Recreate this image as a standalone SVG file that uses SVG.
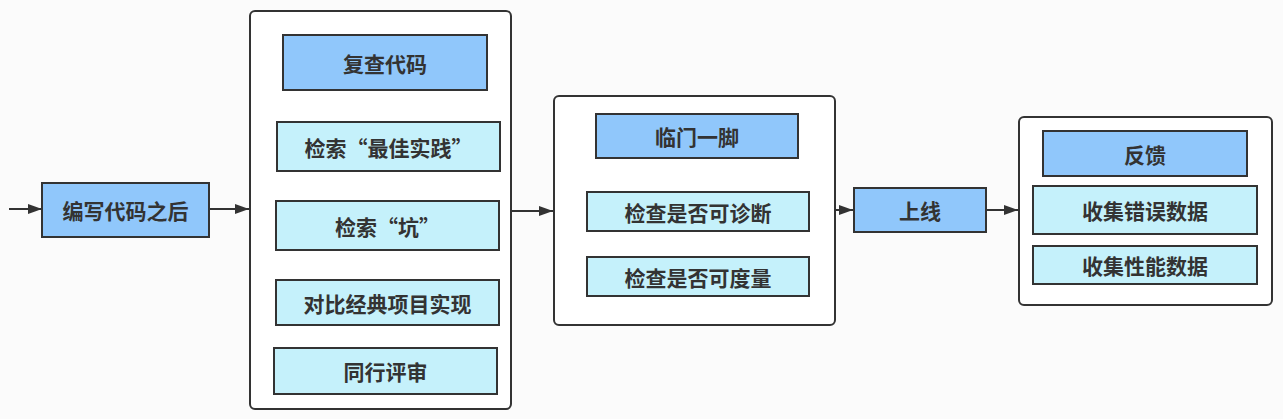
<svg xmlns="http://www.w3.org/2000/svg" width="1283" height="419" viewBox="0 0 1283 419">
<style>
.bg{fill:#fbfbfb}
.cont{fill:#ffffff;stroke:#333333;stroke-width:2}
.dk{fill:#90c7fb;stroke:#333333;stroke-width:2}
.lt{fill:#c5f1fb;stroke:#333333;stroke-width:2}
text{font-family:"Noto Sans CJK SC","Liberation Sans",sans-serif;font-weight:bold;font-size:21px;fill:#333333;text-anchor:middle;dominant-baseline:central}
.ln{stroke:#333333;stroke-width:2;fill:none;marker-end:url(#ah)}
</style>
<defs>
<marker id="ah" viewBox="0 0 14 10" refX="14" refY="5" markerWidth="14" markerHeight="10" markerUnits="userSpaceOnUse" orient="auto">
<path d="M0,0 L14,5 L0,10 Z" fill="#333333"/>
</marker>
</defs>
<rect class="bg" x="0" y="0" width="1283" height="419"/>
<g id="connectors">
<line class="ln" x1="9" y1="209" x2="42" y2="209"/>
<line class="ln" x1="209" y1="209" x2="249" y2="209"/>
<line class="ln" x1="511" y1="211" x2="553" y2="211"/>
<line class="ln" x1="835" y1="210" x2="853" y2="210"/>
<line class="ln" x1="986" y1="210" x2="1018" y2="210"/>
</g>
<g id="n-after">
<rect class="dk" x="42" y="183" width="167" height="54"/>
<text x="125.5" y="210">编写代码之后</text>
</g>
<g id="c-review">
<rect class="cont" x="250" y="11" width="261" height="398" rx="5"/>
</g>
<g id="n-review">
<rect class="dk" x="283" y="35" width="204" height="55"/>
<text x="385" y="62.5">复查代码</text>
</g>
<g id="n-best">
<rect class="lt" x="277" y="122" width="223" height="49"/>
<text x="388.5" y="146.5">检索“最佳实践”</text>
</g>
<g id="n-pit">
<rect class="lt" x="276" y="201" width="223" height="49"/>
<text x="387.5" y="225.5">检索“坑”</text>
</g>
<g id="n-compare">
<rect class="lt" x="276" y="280" width="223" height="45"/>
<text x="387.5" y="302.5">对比经典项目实现</text>
</g>
<g id="n-peer">
<rect class="lt" x="274" y="348" width="223" height="46"/>
<text x="385.5" y="371">同行评审</text>
</g>
<g id="c-last">
<rect class="cont" x="554" y="96" width="281" height="229" rx="5"/>
</g>
<g id="n-last">
<rect class="dk" x="596" y="114" width="202" height="44"/>
<text x="697" y="136">临门一脚</text>
</g>
<g id="n-diag">
<rect class="lt" x="587" y="192" width="222" height="39"/>
<text x="698" y="211.5">检查是否可诊断</text>
</g>
<g id="n-measure">
<rect class="lt" x="587" y="257" width="222" height="39"/>
<text x="698" y="276.5">检查是否可度量</text>
</g>
<g id="n-online">
<rect class="dk" x="854" y="188" width="132" height="44"/>
<text x="920" y="210">上线</text>
</g>
<g id="c-feedback">
<rect class="cont" x="1019" y="117" width="253" height="188" rx="5"/>
</g>
<g id="n-feedback">
<rect class="dk" x="1043" y="131" width="204" height="45"/>
<text x="1145" y="153.5">反馈</text>
</g>
<g id="n-errors">
<rect class="lt" x="1033" y="186" width="224" height="48"/>
<text x="1145" y="210">收集错误数据</text>
</g>
<g id="n-perf">
<rect class="lt" x="1033" y="246" width="224" height="38"/>
<text x="1145" y="265">收集性能数据</text>
</g>
</svg>
